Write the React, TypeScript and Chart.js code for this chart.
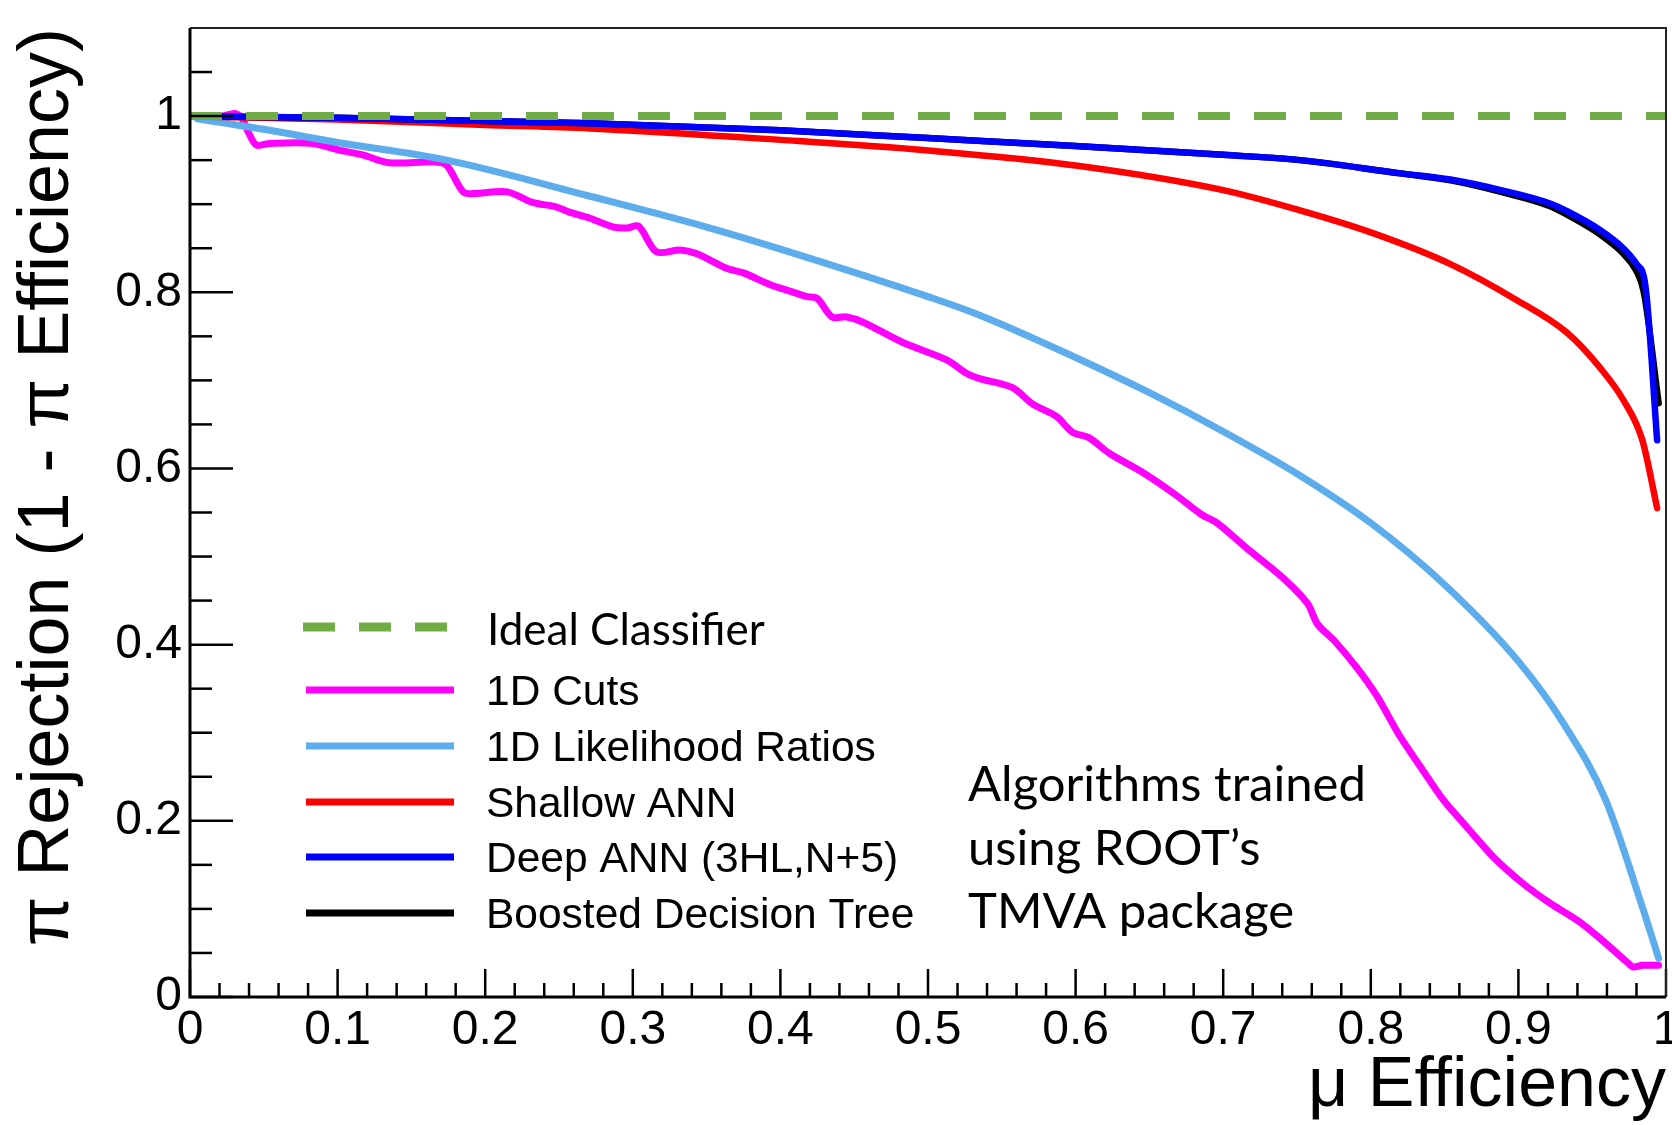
import React, { useEffect, useRef } from 'react';
import { Chart, registerables } from 'chart.js';

Chart.register(...registerables);

// ---------------- data ----------------
const seriesLabels = [
  'Ideal Classifier',
  '1D Cuts',
  '1D Likelihood Ratios',
  'Shallow ANN',
  'Deep ANN (3HL,N+5)',
  'Boosted Decision Tree',
];

const idealX = [0, 1];
const idealY = [1, 1];

const cutsX = [0.0, 0.022, 0.03, 0.035, 0.04, 0.045, 0.054, 0.083, 0.102, 0.117, 0.135, 0.167, 0.174, 0.185, 0.192, 0.215, 0.232, 0.248, 0.257, 0.271, 0.287, 0.296, 0.304, 0.316, 0.332, 0.343, 0.364, 0.375, 0.394, 0.407, 0.418, 0.425, 0.435, 0.445, 0.456, 0.483, 0.513, 0.526, 0.535, 0.557, 0.571, 0.587, 0.598, 0.609, 0.623, 0.645, 0.667, 0.685, 0.696, 0.717, 0.739, 0.757, 0.764, 0.775, 0.79, 0.804, 0.819, 0.835, 0.849, 0.865, 0.883, 0.903, 0.921, 0.94, 0.955, 0.974, 0.978, 0.984, 0.995];
const cutsY = [1.0, 1.0, 1.003, 0.998, 0.98, 0.967, 0.969, 0.969, 0.961, 0.956, 0.947, 0.948, 0.944, 0.914, 0.912, 0.914, 0.902, 0.897, 0.891, 0.884, 0.874, 0.873, 0.875, 0.846, 0.848, 0.844, 0.827, 0.822, 0.808, 0.801, 0.795, 0.793, 0.772, 0.772, 0.766, 0.743, 0.723, 0.708, 0.702, 0.692, 0.673, 0.659, 0.641, 0.635, 0.617, 0.596, 0.571, 0.548, 0.538, 0.508, 0.478, 0.447, 0.423, 0.405, 0.375, 0.342, 0.298, 0.258, 0.224, 0.193, 0.159, 0.129, 0.107, 0.087, 0.067, 0.039, 0.034, 0.036, 0.036];

const likeX = [0.005, 0.05, 0.1, 0.174, 0.271, 0.35, 0.4, 0.5, 0.535, 0.6, 0.65, 0.7, 0.75, 0.8, 0.85, 0.9, 0.93, 0.959, 0.984, 0.995];
const likeY = [0.997, 0.985, 0.97, 0.95, 0.909, 0.874, 0.849, 0.795, 0.774, 0.726, 0.686, 0.642, 0.594, 0.538, 0.468, 0.381, 0.312, 0.224, 0.102, 0.044];

const shallowX = [0.0, 0.022, 0.1, 0.2, 0.271, 0.4, 0.5, 0.6, 0.7, 0.752, 0.8, 0.854, 0.899, 0.933, 0.955, 0.971, 0.984, 0.994];
const shallowY = [1.0, 0.999, 0.996, 0.99, 0.986, 0.973, 0.961, 0.944, 0.916, 0.893, 0.868, 0.832, 0.791, 0.754, 0.715, 0.678, 0.632, 0.555];

const deepX = [0.0, 0.1, 0.271, 0.4, 0.5, 0.6, 0.7, 0.752, 0.82, 0.854, 0.888, 0.921, 0.933, 0.955, 0.971, 0.98, 0.986, 0.994];
const deepY = [1.0, 0.998, 0.992, 0.984, 0.975, 0.966, 0.956, 0.95, 0.935, 0.928, 0.916, 0.901, 0.892, 0.871, 0.85, 0.832, 0.808, 0.632];

const bdtX = [0.0, 0.1, 0.271, 0.4, 0.5, 0.6, 0.7, 0.752, 0.82, 0.854, 0.888, 0.921, 0.933, 0.955, 0.971, 0.98, 0.985, 0.995];
const bdtY = [1.0, 0.998, 0.992, 0.984, 0.975, 0.966, 0.956, 0.95, 0.935, 0.927, 0.914, 0.898, 0.888, 0.866, 0.844, 0.824, 0.8, 0.674];

const xTickLabels = ['0', '0.1', '0.2', '0.3', '0.4', '0.5', '0.6', '0.7', '0.8', '0.9', '1'];
const yTickLabels = ['0', '0.2', '0.4', '0.6', '0.8', '1'];

const xTitle = '\u03bc Efficiency';
const yTitle = '\u03c0 Rejection (1 - \u03c0 Efficiency)';
const noteLines = ['Algorithms trained', 'using ROOT\u2019s', 'TMVA package'];

// ---------------- styles ----------------
const SANS = '"Liberation Sans", Arial, Helvetica, sans-serif';
const HUMAN = 'Lato, "Open Sans", sans-serif';

const pts = (xs: number[], ys: number[]) => xs.map((x, i) => ({ x, y: ys[i] }));

const framePlugin = {
  id: 'rootFrame',
  afterDatasetsDraw(chart: any) {
    const { ctx, chartArea: a, scales } = chart;
    const xs = scales.x;
    const ys = scales.y;
    ctx.save();
    ctx.strokeStyle = '#000';
    ctx.lineCap = 'butt';
    ctx.lineWidth = 2.5;
    for (let i = 0; i <= 50; i++) {
      const v = i * 0.02;
      const px = xs.getPixelForValue(v);
      const len = i % 5 === 0 ? 28 : 14;
      ctx.beginPath();
      ctx.moveTo(px, a.bottom);
      ctx.lineTo(px, a.bottom - len);
      ctx.stroke();
    }
    for (let i = 0; i <= 22; i++) {
      const v = i * 0.05;
      if (v > 1.09) break;
      const py = ys.getPixelForValue(v);
      const len = i % 4 === 0 ? 43 : 22;
      ctx.beginPath();
      ctx.moveTo(a.left, py);
      ctx.lineTo(a.left + len, py);
      ctx.stroke();
    }
    ctx.lineWidth = 2;
    ctx.strokeStyle = '#222';
    ctx.beginPath();
    ctx.moveTo(a.left, a.top);
    ctx.lineTo(a.right, a.top);
    ctx.lineTo(a.right, a.bottom);
    ctx.stroke();
    ctx.strokeStyle = '#000';
    ctx.lineWidth = 3;
    ctx.beginPath();
    ctx.moveTo(a.left, a.top);
    ctx.lineTo(a.left, a.bottom);
    ctx.lineTo(a.right, a.bottom);
    ctx.stroke();
    ctx.restore();
  },
};

const legendRows = [627, 690, 746, 802, 857, 913];

const legendPlugin = {
  id: 'rootLegend',
  afterDraw(chart: any) {
    const { ctx } = chart;
    const ds = chart.data.datasets;
    ctx.save();
    ds.forEach((d: any, i: number) => {
      const y = legendRows[i];
      ctx.strokeStyle = d.borderColor;
      ctx.lineWidth = d.borderDash ? 9 : 7;
      ctx.lineCap = 'butt';
      ctx.setLineDash(d.borderDash || []);
      ctx.beginPath();
      if (d.borderDash) {
        ctx.moveTo(303, y);
        ctx.lineTo(450, y);
      } else {
        ctx.moveTo(306, y);
        ctx.lineTo(454, y);
      }
      ctx.stroke();
      ctx.setLineDash([]);
      ctx.fillStyle = '#000';
      ctx.textBaseline = 'alphabetic';
      ctx.textAlign = 'left';
      if (i === 0) {
        ctx.font = `44px ${HUMAN}`;
        ctx.fillText(d.label, 487, y + 18);
      } else {
        ctx.font = `42.5px ${SANS}`;
        ctx.fillText(d.label, 486, y + 15);
      }
    });
    ctx.font = `49px ${HUMAN}`;
    noteLines.forEach((t, i) => {
      ctx.fillText(t, 968, 801 + i * 63.5);
    });
    ctx.restore();
  },
};

export default function App() {
  const ref = useRef<HTMLCanvasElement | null>(null);

  useEffect(() => {
    const canvas = ref.current;
    if (!canvas) return;
    const common = { pointRadius: 0, showLine: true, fill: false, borderCapStyle: 'round', borderJoinStyle: 'round' };
    const chart = new Chart(canvas, {
      type: 'scatter',
      data: {
        datasets: [
          { ...common, label: seriesLabels[0], data: pts(idealX, idealY), borderColor: '#70AD47', borderWidth: 8, borderDash: [32, 24], borderCapStyle: 'butt', order: 0 },
          { ...common, label: seriesLabels[1], data: pts(cutsX, cutsY), borderColor: '#FF00FF', borderWidth: 7, tension: 0.3, order: 5 },
          { ...common, label: seriesLabels[2], data: pts(likeX, likeY), borderColor: '#5DADEC', borderWidth: 7, cubicInterpolationMode: 'monotone', order: 4 },
          { ...common, label: seriesLabels[3], data: pts(shallowX, shallowY), borderColor: '#FF0000', borderWidth: 6.5, cubicInterpolationMode: 'monotone', order: 3 },
          { ...common, label: seriesLabels[4], data: pts(deepX, deepY), borderColor: '#0000FF', borderWidth: 6.5, cubicInterpolationMode: 'monotone', order: 1 },
          { ...common, label: seriesLabels[5], data: pts(bdtX, bdtY), borderColor: '#000000', borderWidth: 6.5, cubicInterpolationMode: 'monotone', order: 2 },
        ],
      } as any,
      options: {
        animation: false,
        responsive: false,
        maintainAspectRatio: false,
        layout: { padding: { top: 28, right: 6, left: 0, bottom: 0 } },
        plugins: { legend: { display: false }, tooltip: { enabled: false } },
        scales: {
          x: {
            type: 'linear',
            min: 0,
            max: 1,
            grid: { display: false, drawTicks: false },
            border: { display: false },
            ticks: {
              stepSize: 0.1,
              includeBounds: false,
              padding: 5,
              color: '#000',
              font: { family: SANS, size: 48 },
              maxRotation: 0,
              autoSkip: false,
              callback: (v: any) => {
                const idx = Math.round(Number(v) * 10);
                return xTickLabels[idx] ?? '';
              },
            },
            title: {
              display: true,
              text: xTitle,
              align: 'end',
              color: '#000',
              font: { family: SANS, size: 70 },
              padding: { top: 0, bottom: -4 },
            },
            afterFit: (s: any) => {
              s.height = 128;
              s.paddingLeft = 0;
              s.paddingRight = 0;
            },
          },
          y: {
            type: 'linear',
            min: 0,
            max: 1.1,
            grid: { display: false, drawTicks: false },
            border: { display: false },
            ticks: {
              stepSize: 0.2,
              includeBounds: false,
              padding: 8,
              color: '#000',
              font: { family: SANS, size: 48 },
              autoSkip: false,
              callback: (v: any) => {
                const idx = Math.round(Number(v) * 5);
                return yTickLabels[idx] ?? '';
              },
            },
            title: {
              display: true,
              text: yTitle,
              align: 'end',
              color: '#000',
              font: { family: SANS, size: 72 },
              padding: { top: 5, bottom: 0 },
            },
            afterFit: (s: any) => {
              s.width = 190;
              s.paddingTop = 0;
              s.paddingBottom = 0;
            },
          },
        },
      } as any,
      plugins: [framePlugin, legendPlugin],
    });
    return () => chart.destroy();
  }, []);

  return (
    <div style={{ position: 'fixed', left: 0, top: 0, width: 1672, height: 1125, background: '#fff' }}>
      <canvas ref={ref} width={1672} height={1125} style={{ display: 'block' }} />
    </div>
  );
}
